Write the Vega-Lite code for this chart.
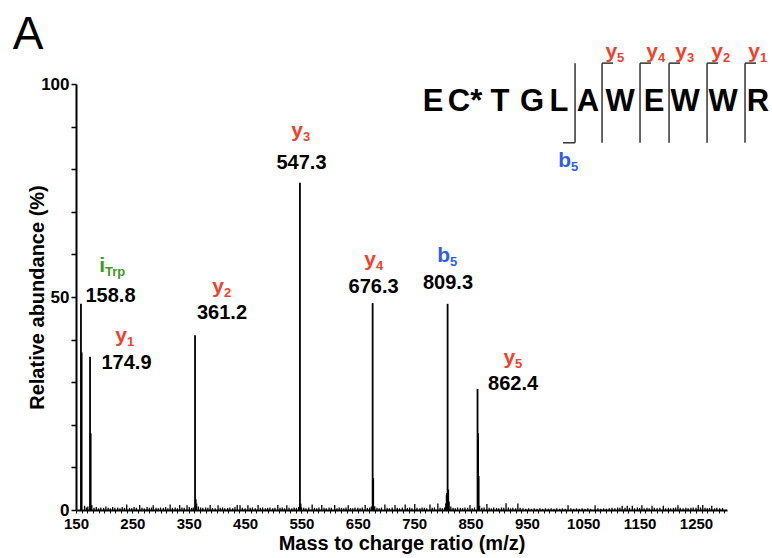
{
  "$schema": "https://vega.github.io/schema/vega-lite/v6.json",
  "width": 651,
  "height": 426,
  "autosize": "none",
  "padding": {"left": 76, "top": 84, "right": 45, "bottom": 48},
  "background": "white",
  "config": {
    "view": {"stroke": null},
    "font": "Liberation Sans",
    "text": {"font": "Liberation Sans"}
  },
  "datasets": {
    "peaks": [
      {"mz": 158.8, "pct": 48.4},
      {"mz": 160.0, "pct": 37.0},
      {"mz": 174.9, "pct": 36.0},
      {"mz": 176.0, "pct": 18.0},
      {"mz": 361.2, "pct": 41.0},
      {"mz": 362.4, "pct": 2.5},
      {"mz": 547.3, "pct": 76.8},
      {"mz": 548.4, "pct": 1.5},
      {"mz": 676.3, "pct": 48.6},
      {"mz": 677.3, "pct": 7.5},
      {"mz": 807.6, "pct": 3.5},
      {"mz": 808.4, "pct": 4.0},
      {"mz": 809.3, "pct": 48.4},
      {"mz": 810.4, "pct": 4.8},
      {"mz": 862.4, "pct": 28.4},
      {"mz": 863.4, "pct": 18.0},
      {"mz": 864.4, "pct": 8.0}
    ],
    "noise": [
      {"mz": 165.2, "pct": 1.0}, {"mz": 168.5, "pct": 0.6}, {"mz": 171, "pct": 0.8}, {"mz": 178, "pct": 1.2},
      {"mz": 182, "pct": 0.5}, {"mz": 186, "pct": 0.7}, {"mz": 190, "pct": 0.4}, {"mz": 194, "pct": 0.6},
      {"mz": 199, "pct": 0.5}, {"mz": 203, "pct": 0.8}, {"mz": 207, "pct": 0.5}, {"mz": 211, "pct": 0.4},
      {"mz": 215, "pct": 0.7}, {"mz": 219, "pct": 0.5}, {"mz": 224, "pct": 0.6}, {"mz": 228, "pct": 0.4},
      {"mz": 232, "pct": 0.7}, {"mz": 236, "pct": 0.5}, {"mz": 240, "pct": 1.3}, {"mz": 245, "pct": 0.5},
      {"mz": 249, "pct": 0.4}, {"mz": 253, "pct": 0.7}, {"mz": 257, "pct": 0.5}, {"mz": 263, "pct": 1.2},
      {"mz": 267, "pct": 0.5}, {"mz": 271, "pct": 0.4}, {"mz": 276, "pct": 0.7}, {"mz": 280, "pct": 0.5},
      {"mz": 284, "pct": 0.6}, {"mz": 287, "pct": 1.1}, {"mz": 292, "pct": 0.5}, {"mz": 296, "pct": 0.4},
      {"mz": 300, "pct": 0.6}, {"mz": 305, "pct": 0.5}, {"mz": 309, "pct": 0.7}, {"mz": 313, "pct": 0.4},
      {"mz": 317, "pct": 1.3}, {"mz": 321, "pct": 0.5}, {"mz": 326, "pct": 0.6}, {"mz": 330, "pct": 0.4},
      {"mz": 334, "pct": 1.2}, {"mz": 338, "pct": 0.6}, {"mz": 342, "pct": 0.5}, {"mz": 347, "pct": 1.1},
      {"mz": 351, "pct": 0.7}, {"mz": 355, "pct": 0.5}, {"mz": 358, "pct": 0.6}, {"mz": 364, "pct": 1.5},
      {"mz": 367, "pct": 0.8}, {"mz": 371, "pct": 0.6}, {"mz": 375, "pct": 0.5}, {"mz": 380, "pct": 0.6},
      {"mz": 384, "pct": 0.5}, {"mz": 388, "pct": 1.2}, {"mz": 392, "pct": 0.5}, {"mz": 397, "pct": 0.4},
      {"mz": 402, "pct": 1.1}, {"mz": 406, "pct": 0.5}, {"mz": 410, "pct": 0.6}, {"mz": 414, "pct": 0.4},
      {"mz": 419, "pct": 0.5}, {"mz": 423, "pct": 0.6}, {"mz": 428, "pct": 0.4}, {"mz": 432, "pct": 0.7},
      {"mz": 436, "pct": 1.2}, {"mz": 441, "pct": 1.1}, {"mz": 445, "pct": 0.5}, {"mz": 450, "pct": 0.4},
      {"mz": 455, "pct": 1.1}, {"mz": 459, "pct": 0.5}, {"mz": 463, "pct": 0.6}, {"mz": 468, "pct": 0.4},
      {"mz": 473, "pct": 1.2}, {"mz": 477, "pct": 0.5}, {"mz": 481, "pct": 0.6}, {"mz": 486, "pct": 0.4},
      {"mz": 490, "pct": 0.5}, {"mz": 494, "pct": 0.6}, {"mz": 499, "pct": 0.4}, {"mz": 503, "pct": 0.5},
      {"mz": 508, "pct": 1.2}, {"mz": 512, "pct": 0.5}, {"mz": 516, "pct": 0.6}, {"mz": 520, "pct": 0.4},
      {"mz": 524, "pct": 1.1}, {"mz": 528, "pct": 0.5}, {"mz": 533, "pct": 0.4}, {"mz": 537, "pct": 0.6},
      {"mz": 541, "pct": 0.5}, {"mz": 545, "pct": 0.7}, {"mz": 550, "pct": 0.6}, {"mz": 554, "pct": 0.5},
      {"mz": 558, "pct": 0.4}, {"mz": 563, "pct": 0.6}, {"mz": 569, "pct": 1.3}, {"mz": 573, "pct": 0.5},
      {"mz": 577, "pct": 0.4}, {"mz": 581, "pct": 0.6}, {"mz": 586, "pct": 1.2}, {"mz": 590, "pct": 0.5},
      {"mz": 594, "pct": 0.4}, {"mz": 599, "pct": 0.6}, {"mz": 603, "pct": 0.5}, {"mz": 609, "pct": 1.2},
      {"mz": 613, "pct": 0.4}, {"mz": 617, "pct": 0.6}, {"mz": 621, "pct": 0.5}, {"mz": 625, "pct": 0.4},
      {"mz": 629, "pct": 0.6}, {"mz": 633, "pct": 1.1}, {"mz": 637, "pct": 0.5}, {"mz": 641, "pct": 0.4},
      {"mz": 645, "pct": 0.6}, {"mz": 650, "pct": 0.5}, {"mz": 654, "pct": 0.4}, {"mz": 658, "pct": 0.6},
      {"mz": 663, "pct": 1.2}, {"mz": 667, "pct": 0.5}, {"mz": 671, "pct": 0.6}, {"mz": 674, "pct": 0.8},
      {"mz": 680, "pct": 0.9}, {"mz": 684, "pct": 0.5}, {"mz": 688, "pct": 0.4}, {"mz": 692, "pct": 0.6},
      {"mz": 698, "pct": 1.3}, {"mz": 702, "pct": 0.5}, {"mz": 706, "pct": 0.4}, {"mz": 711, "pct": 0.6},
      {"mz": 716, "pct": 1.2}, {"mz": 720, "pct": 0.5}, {"mz": 724, "pct": 0.4}, {"mz": 729, "pct": 0.6},
      {"mz": 734, "pct": 1.3}, {"mz": 738, "pct": 0.5}, {"mz": 742, "pct": 0.6}, {"mz": 746, "pct": 0.4},
      {"mz": 751, "pct": 1.4}, {"mz": 755, "pct": 0.5}, {"mz": 760, "pct": 0.4}, {"mz": 764, "pct": 0.6},
      {"mz": 768, "pct": 0.5}, {"mz": 772, "pct": 0.4}, {"mz": 778, "pct": 1.3}, {"mz": 782, "pct": 0.5},
      {"mz": 786, "pct": 0.6}, {"mz": 792, "pct": 1.5}, {"mz": 796, "pct": 0.5}, {"mz": 800, "pct": 0.4},
      {"mz": 804, "pct": 0.6}, {"mz": 806, "pct": 1.5}, {"mz": 812, "pct": 2.0}, {"mz": 815, "pct": 0.8},
      {"mz": 819, "pct": 0.5}, {"mz": 823, "pct": 0.4}, {"mz": 827, "pct": 0.6}, {"mz": 832, "pct": 0.5},
      {"mz": 836, "pct": 0.4}, {"mz": 840, "pct": 0.6}, {"mz": 845, "pct": 0.5}, {"mz": 849, "pct": 1.2},
      {"mz": 853, "pct": 0.4}, {"mz": 857, "pct": 0.6}, {"mz": 866, "pct": 1.0}, {"mz": 870, "pct": 0.5},
      {"mz": 874, "pct": 0.6}, {"mz": 879, "pct": 1.4}, {"mz": 883, "pct": 0.5}, {"mz": 887, "pct": 0.4},
      {"mz": 891, "pct": 0.6}, {"mz": 896, "pct": 0.5}, {"mz": 900, "pct": 0.4}, {"mz": 905, "pct": 0.6},
      {"mz": 909, "pct": 0.5}, {"mz": 913, "pct": 1.6}, {"mz": 917, "pct": 0.6}, {"mz": 921, "pct": 0.4},
      {"mz": 925, "pct": 0.5}, {"mz": 930, "pct": 0.4}, {"mz": 934, "pct": 1.5}, {"mz": 938, "pct": 0.5},
      {"mz": 943, "pct": 0.4}, {"mz": 948, "pct": 0.3}, {"mz": 953, "pct": 0.4}, {"mz": 958, "pct": 0.3},
      {"mz": 963, "pct": 0.4}, {"mz": 968, "pct": 0.3}, {"mz": 973, "pct": 0.4}, {"mz": 978, "pct": 0.3},
      {"mz": 983, "pct": 0.4}, {"mz": 988, "pct": 0.3}, {"mz": 993, "pct": 0.4}, {"mz": 998, "pct": 0.3},
      {"mz": 1003, "pct": 0.4}, {"mz": 1008, "pct": 0.3}, {"mz": 1013, "pct": 0.4}, {"mz": 1018, "pct": 0.3},
      {"mz": 1023, "pct": 1.1}, {"mz": 1028, "pct": 0.4}, {"mz": 1033, "pct": 0.3}, {"mz": 1038, "pct": 0.4},
      {"mz": 1043, "pct": 0.3}, {"mz": 1048, "pct": 0.4}, {"mz": 1053, "pct": 0.3}, {"mz": 1058, "pct": 0.4},
      {"mz": 1063, "pct": 0.3}, {"mz": 1071, "pct": 1.1}, {"mz": 1076, "pct": 0.4}, {"mz": 1081, "pct": 0.3},
      {"mz": 1086, "pct": 0.4}, {"mz": 1091, "pct": 0.3}, {"mz": 1096, "pct": 0.4}, {"mz": 1101, "pct": 0.5},
      {"mz": 1106, "pct": 0.4}, {"mz": 1111, "pct": 0.6}, {"mz": 1115, "pct": 0.5}, {"mz": 1119, "pct": 1.0},
      {"mz": 1124, "pct": 0.5}, {"mz": 1128, "pct": 1.0}, {"mz": 1132, "pct": 0.5}, {"mz": 1137, "pct": 1.0},
      {"mz": 1141, "pct": 0.4}, {"mz": 1146, "pct": 0.6}, {"mz": 1150, "pct": 0.5}, {"mz": 1154, "pct": 1.1},
      {"mz": 1158, "pct": 0.4}, {"mz": 1163, "pct": 0.5}, {"mz": 1167, "pct": 0.4}, {"mz": 1172, "pct": 1.0},
      {"mz": 1176, "pct": 0.5}, {"mz": 1181, "pct": 0.4}, {"mz": 1186, "pct": 0.5}, {"mz": 1192, "pct": 1.0},
      {"mz": 1196, "pct": 0.4}, {"mz": 1201, "pct": 0.5}, {"mz": 1205, "pct": 0.4}, {"mz": 1210, "pct": 0.5},
      {"mz": 1214, "pct": 0.6}, {"mz": 1218, "pct": 1.1}, {"mz": 1222, "pct": 0.5}, {"mz": 1227, "pct": 0.4},
      {"mz": 1232, "pct": 0.5}, {"mz": 1236, "pct": 0.4}, {"mz": 1241, "pct": 0.5}, {"mz": 1245, "pct": 0.6},
      {"mz": 1250, "pct": 0.5}, {"mz": 1254, "pct": 1.2}, {"mz": 1258, "pct": 0.6}, {"mz": 1262, "pct": 1.2},
      {"mz": 1266, "pct": 0.5}, {"mz": 1270, "pct": 0.4}, {"mz": 1274, "pct": 0.5}, {"mz": 1278, "pct": 1.0},
      {"mz": 1283, "pct": 0.4}, {"mz": 1287, "pct": 0.5}, {"mz": 1292, "pct": 0.4}, {"mz": 1297, "pct": 0.5}
    ],
    "numbers": [
      {"mz": 211.2, "pct": 50.3, "label": "158.8"},
      {"mz": 239.6, "pct": 34.5, "label": "174.9"},
      {"mz": 409.0, "pct": 46.2, "label": "361.2"},
      {"mz": 550.1, "pct": 81.5, "label": "547.3"},
      {"mz": 677.9, "pct": 52.4, "label": "676.3"},
      {"mz": 810.0, "pct": 53.3, "label": "809.3"},
      {"mz": 925.4, "pct": 29.6, "label": "862.4"}
    ],
    "ions": [
      {"mz": 201.5, "pct": 57.3, "ion": "i", "sub": "Trp", "kind": "i"},
      {"mz": 240.5, "pct": 40.8, "ion": "y", "sub": "1", "kind": "y"},
      {"mz": 412.6, "pct": 52.4, "ion": "y", "sub": "2", "kind": "y"},
      {"mz": 552.8, "pct": 89.0, "ion": "y", "sub": "3", "kind": "y"},
      {"mz": 682.3, "pct": 58.7, "ion": "y", "sub": "4", "kind": "y"},
      {"mz": 813.6, "pct": 59.6, "ion": "b", "sub": "5", "kind": "b"},
      {"mz": 929.0, "pct": 35.7, "ion": "y", "sub": "5", "kind": "y"},
      {"mz": 1110.0, "pct": 107.6, "ion": "y", "sub": "5", "kind": "y"},
      {"mz": 1182.6, "pct": 107.6, "ion": "y", "sub": "4", "kind": "y"},
      {"mz": 1234.0, "pct": 107.6, "ion": "y", "sub": "3", "kind": "y"},
      {"mz": 1298.0, "pct": 107.6, "ion": "y", "sub": "2", "kind": "y"},
      {"mz": 1363.6, "pct": 107.6, "ion": "y", "sub": "1", "kind": "y"},
      {"mz": 1028.3, "pct": 81.9, "ion": "b", "sub": "5", "kind": "b"}
    ],
    "peptide": [
      {"mz": 783.4, "pct": 95.8, "aa": "E"},
      {"mz": 840.2, "pct": 95.8, "aa": "C*"},
      {"mz": 902.3, "pct": 95.8, "aa": "T"},
      {"mz": 959.1, "pct": 95.8, "aa": "G"},
      {"mz": 1007.0, "pct": 95.8, "aa": "L"},
      {"mz": 1058.4, "pct": 95.8, "aa": "A"},
      {"mz": 1115.2, "pct": 95.8, "aa": "W"},
      {"mz": 1175.6, "pct": 95.8, "aa": "E"},
      {"mz": 1230.5, "pct": 95.8, "aa": "W"},
      {"mz": 1298.0, "pct": 95.8, "aa": "W"},
      {"mz": 1360.1, "pct": 95.8, "aa": "R"}
    ],
    "brackets": [
      {"mz": 1035.4, "mz2": 1035.4, "pct": 104.9, "pct2": 86.2},
      {"mz": 1014.1, "mz2": 1035.4, "pct": 86.2, "pct2": 86.2},
      {"mz": 1083.3, "mz2": 1083.3, "pct": 104.9, "pct2": 86.2},
      {"mz": 1083.3, "mz2": 1102.8, "pct": 104.9, "pct2": 104.9},
      {"mz": 1150.7, "mz2": 1150.7, "pct": 104.9, "pct2": 86.2},
      {"mz": 1150.7, "mz2": 1170.2, "pct": 104.9, "pct2": 104.9},
      {"mz": 1202.2, "mz2": 1202.2, "pct": 104.9, "pct2": 86.2},
      {"mz": 1202.2, "mz2": 1221.7, "pct": 104.9, "pct2": 104.9},
      {"mz": 1269.6, "mz2": 1269.6, "pct": 104.9, "pct2": 86.2},
      {"mz": 1269.6, "mz2": 1289.2, "pct": 104.9, "pct2": 104.9},
      {"mz": 1337.0, "mz2": 1337.0, "pct": 104.9, "pct2": 86.2},
      {"mz": 1337.0, "mz2": 1356.5, "pct": 104.9, "pct2": 104.9}
    ],
    "panel": [
      {"mz": 64.8, "pct": 111.5, "tag": "A"}
    ]
  },
  "encoding": {
    "x": {
      "field": "mz",
      "type": "quantitative",
      "scale": {"domain": [150, 1305], "nice": false, "zero": false},
      "axis": {
        "title": "Mass to charge ratio (m/z)",
        "values": [150,160,170,180,190,200,210,220,230,240,250,260,270,280,290,300,310,320,330,340,350,360,370,380,390,400,410,420,430,440,450,460,470,480,490,500,510,520,530,540,550,560,570,580,590,600,610,620,630,640,650,660,670,680,690,700,710,720,730,740,750,760,770,780,790,800,810,820,830,840,850,860,870,880,890,900,910,920,930,940,950,960,970,980,990,1000,1010,1020,1030,1040,1050,1060,1070,1080,1090,1100,1110,1120,1130,1140,1150,1160,1170,1180,1190,1200,1210,1220,1230,1240,1250,1260,1270,1280,1290,1300],
        "labelExpr": "(datum.value - 150) % 100 == 0 ? format(datum.value, 'd') : ''",
        "labelOverlap": false,
        "labelFlush": false,
        "grid": false,
        "domainColor": "black",
        "domainWidth": 2,
        "tickColor": "black",
        "tickSize": 3,
        "tickWidth": 1,
        "labelFont": "Liberation Sans",
        "labelFontSize": 15,
        "labelFontWeight": "bold",
        "labelColor": "black",
        "labelPadding": 3,
        "titleFont": "Liberation Sans",
        "titleFontSize": 20,
        "titleFontWeight": "bold",
        "titleColor": "black",
        "titlePadding": 2
      }
    },
    "y": {
      "field": "pct",
      "type": "quantitative",
      "scale": {"domain": [0, 100], "nice": false},
      "axis": {
        "title": "Relative abundance (%)",
        "values": [0,10,20,30,40,50,60,70,80,90,100],
        "labelExpr": "datum.value % 50 == 0 ? format(datum.value, 'd') : ''",
        "labelOverlap": false,
        "grid": false,
        "domainColor": "black",
        "domainWidth": 2,
        "tickColor": "black",
        "tickSize": 5,
        "tickWidth": 1.5,
        "labelFont": "Liberation Sans",
        "labelFontSize": 17,
        "labelFontWeight": "bold",
        "labelColor": "black",
        "labelPadding": 2,
        "titleFont": "Liberation Sans",
        "titleFontSize": 20,
        "titleFontWeight": "bold",
        "titleColor": "black",
        "titlePadding": -7
      }
    }
  },
  "layer": [
    {
      "data": {"name": "noise"},
      "mark": {"type": "rule", "color": "black", "strokeWidth": 1.3},
      "encoding": {"y2": {"datum": 0}}
    },
    {
      "data": {"name": "peaks"},
      "mark": {"type": "rule", "color": "black", "strokeWidth": 1.8},
      "encoding": {"y2": {"datum": 0}}
    },
    {
      "data": {"name": "numbers"},
      "mark": {"type": "text", "fontSize": 20, "fontWeight": "bold", "color": "black", "align": "center", "baseline": "middle"},
      "encoding": {"text": {"field": "label"}}
    },
    {
      "data": {"name": "ions"},
      "mark": {"type": "text", "fontSize": 21, "fontWeight": "bold", "align": "right", "baseline": "middle"},
      "encoding": {
        "text": {"field": "ion"},
        "color": {"field": "kind", "type": "nominal", "scale": {"domain": ["y", "b", "i"], "range": ["#f2402a", "#2f5df2", "#3d9a22"]}, "legend": null}
      }
    },
    {
      "data": {"name": "ions"},
      "mark": {"type": "text", "fontSize": 13, "fontWeight": "bold", "align": "left", "baseline": "middle", "dy": 6},
      "encoding": {
        "text": {"field": "sub"},
        "color": {"field": "kind", "type": "nominal", "scale": {"domain": ["y", "b", "i"], "range": ["#f2402a", "#2f5df2", "#3d9a22"]}, "legend": null}
      }
    },
    {
      "data": {"name": "peptide"},
      "mark": {"type": "text", "fontSize": 31, "fontWeight": "bold", "color": "black", "align": "center", "baseline": "middle"},
      "encoding": {"text": {"field": "aa"}}
    },
    {
      "data": {"name": "brackets"},
      "mark": {"type": "rule", "color": "#333333", "strokeWidth": 1.5},
      "encoding": {
        "x2": {"field": "mz2"},
        "y2": {"field": "pct2"}
      }
    },
    {
      "data": {"name": "panel"},
      "mark": {"type": "text", "fontSize": 46, "fontWeight": "normal", "color": "black", "align": "center", "baseline": "middle"},
      "encoding": {"text": {"field": "tag"}}
    }
  ]
}
